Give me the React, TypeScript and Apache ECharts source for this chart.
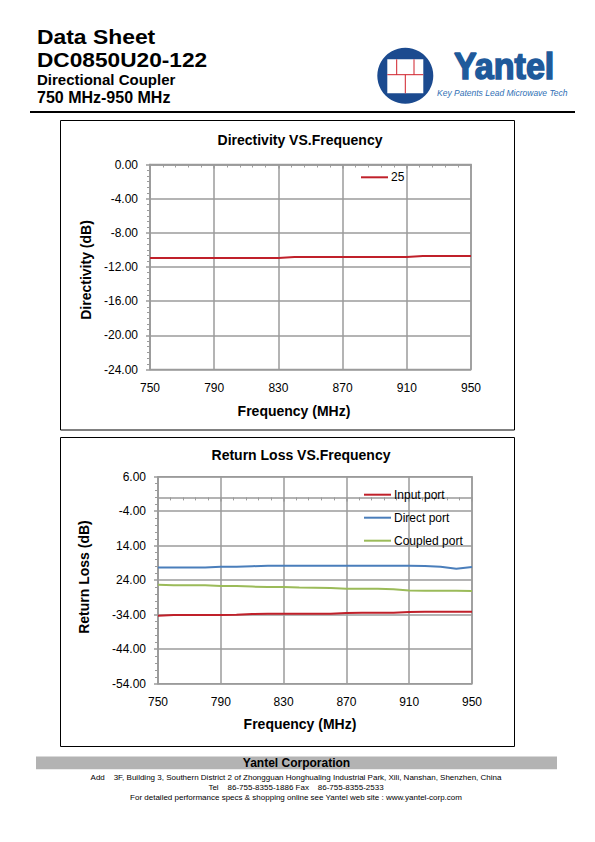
import React, { useEffect, useRef } from "react";
import * as echarts from "echarts";

// ---------- data ----------
const freqs = [750, 760, 770, 780, 790, 800, 810, 820, 830, 840, 850, 860, 870, 880, 890, 900, 910, 920, 930, 940, 950];
const directivity25 = [-10.95, -10.95, -10.95, -10.95, -10.95, -10.95, -10.95, -10.95, -10.95, -10.84, -10.83, -10.83, -10.83, -10.83, -10.83, -10.83, -10.83, -10.72, -10.7, -10.7, -10.7];
const inputPort = [-34.3, -34.1, -34.1, -34.1, -34.1, -34.05, -33.8, -33.75, -33.75, -33.75, -33.75, -33.72, -33.5, -33.45, -33.45, -33.4, -33.2, -33.15, -33.15, -33.15, -33.15];
const directPort = [-20.35, -20.35, -20.35, -20.35, -20.1, -20.1, -19.95, -19.8, -19.8, -19.8, -19.8, -19.8, -19.8, -19.8, -19.8, -19.8, -19.8, -19.85, -20.1, -20.65, -20.2];
const coupledPort = [-25.3, -25.45, -25.45, -25.45, -25.7, -25.7, -25.85, -26.0, -26.0, -26.15, -26.2, -26.25, -26.5, -26.5, -26.5, -26.6, -27.0, -27.05, -27.05, -27.05, -27.1];

const dirYTicks = [0, -4, -8, -12, -16, -20, -24];
const dirYLabels = ["0.00", "-4.00", "-8.00", "-12.00", "-16.00", "-20.00", "-24.00"];
const rlYTicks = [6, -4, -14, -24, -34, -44, -54];
const rlYLabels = ["6.00", "-4.00", "14.00", "24.00", "-34.00", "-44.00", "-54.00"];
const xTickLabels = ["750", "790", "830", "870", "910", "950"];

const footerAddress = "Add    3F, Building 3, Southern District 2 of Zhongguan Honghualing Industrial Park, Xili, Nanshan, Shenzhen, China";
const footerTel = "Tel    86-755-8355-1886 Fax    86-755-8355-2533";
const footerWeb = "For detailed performance specs & shopping online see Yantel web site : www.yantel-corp.com";

// ---------- styles ----------
const FONT = '"Liberation Sans", Arial, sans-serif';
const GRID_GRAY = "#9b9b9b";
const RED = "#c0202a";
const BLUE = "#4a7ebb";
const GREEN = "#9bbb59";

function labelFrom(ticks: number[], labels: string[]) {
  return (v: number) => {
    const i = ticks.findIndex((t) => Math.abs(t - v) < 1e-6);
    return i >= 0 ? labels[i] : "";
  };
}

function makeX(gridIndex: number) {
  return {
    type: "value",
    gridIndex,
    min: 750,
    max: 950,
    interval: 40,
    axisLine: { show: true, lineStyle: { color: GRID_GRAY, width: 1.5 } },
    axisTick: { show: true, length: 4, lineStyle: { color: GRID_GRAY, width: 1.5 } },
    minorTick: { show: true, splitNumber: 5, length: 3, lineStyle: { color: GRID_GRAY, width: 1 } },
    axisLabel: {
      color: "#000",
      fontSize: 12,
      fontFamily: FONT,
      margin: 12,
      formatter: (v: number) => {
        const s = String(Math.round(v));
        return xTickLabels.includes(s) ? s : "";
      },
    },
    splitLine: { show: true, lineStyle: { color: GRID_GRAY, width: 1.5 } },
  };
}

function makeY(gridIndex: number, min: number, max: number, interval: number, minorSplit: number, ticks: number[], labels: string[]) {
  return {
    type: "value",
    gridIndex,
    min,
    max,
    interval,
    axisLine: { show: true, lineStyle: { color: GRID_GRAY, width: 1.5 } },
    axisTick: { show: true, length: 4, lineStyle: { color: GRID_GRAY, width: 1.5 } },
    minorTick: { show: true, splitNumber: minorSplit, length: 3, lineStyle: { color: GRID_GRAY, width: 1 } },
    axisLabel: {
      color: "#000",
      fontSize: 12,
      fontFamily: FONT,
      margin: 12,
      formatter: labelFrom(ticks, labels),
    },
    splitLine: { show: true, lineStyle: { color: GRID_GRAY, width: 1.5 } },
  };
}

function pairs(vals: number[]) {
  return freqs.map((f, i) => [f, vals[i]]);
}

function txt(text: string, x: number, y: number, font: string, fill = "#000", align = "left", extra: any = {}, styleExtra: any = {}) {
  return {
    type: "text",
    x,
    y,
    ...extra,
    style: { text, font, fill, textAlign: align, textVerticalAlign: "middle", ...styleExtra },
  };
}

function legendCfg(names: string[], left: number, top: number) {
  return {
    data: names,
    left,
    top,
    padding: 0,
    orient: "vertical",
    icon: "rect",
    itemWidth: 27,
    itemHeight: 2,
    itemGap: 11,
    textStyle: { color: "#000", fontSize: 12, fontFamily: FONT, padding: [0, 0, 0, -2] },
  };
}

export default function App() {
  const ref = useRef<HTMLDivElement>(null);

  useEffect(() => {
    if (!ref.current) return;
    const chart = echarts.init(ref.current, undefined, { renderer: "svg" });

    const graphic: any[] = [
      // header text
      txt("Data Sheet", 37, 36.6, `bold 21px ${FONT}`, "#000", "left", { scaleX: 1.09 }),
      txt("DC0850U20-122", 37, 60.2, `bold 21px ${FONT}`, "#000", "left", { scaleX: 1.08 }),
      txt("Directional Coupler", 37, 79.5, `bold 15px ${FONT}`),
      txt("750 MHz-950 MHz", 37, 97, `bold 16px ${FONT}`),
      // logo
      { type: "circle", shape: { cx: 405.3, cy: 75.7, r: 28 }, style: { fill: "#1b4a8f" } },
      { type: "rect", shape: { x: 387.3, y: 59.3, width: 36, height: 34 }, style: { fill: "#fff" } },
      { type: "line", shape: { x1: 387.3, y1: 74.7, x2: 423.3, y2: 74.7 }, style: { stroke: "#d0202a", lineWidth: 1 } },
      { type: "line", shape: { x1: 396.7, y1: 59.3, x2: 396.7, y2: 74.7 }, style: { stroke: "#d0202a", lineWidth: 1 } },
      { type: "line", shape: { x1: 414, y1: 59.3, x2: 414, y2: 74.7 }, style: { stroke: "#d0202a", lineWidth: 1 } },
      { type: "line", shape: { x1: 405.3, y1: 74.7, x2: 405.3, y2: 93.3 }, style: { stroke: "#d0202a", lineWidth: 1 } },
      txt("Yantel", 454, 66.3, `bold 37px ${FONT}`, "#1f5a9b", "left", { scaleX: 0.92 }, { stroke: "#1f5a9b", lineWidth: 1.6 }),
      txt("Key Patents Lead Microwave Tech", 437, 92.7, `italic 8.5px ${FONT}`, "#2f6fb5"),
      // header rule
      { type: "line", shape: { x1: 30, y1: 112, x2: 575, y2: 112 }, style: { stroke: "#000", lineWidth: 2 } },
      // chart boxes
      { type: "rect", shape: { x: 60.5, y: 120.5, width: 454, height: 309.5 }, style: { fill: "none", stroke: "#000", lineWidth: 1 } },
      { type: "rect", shape: { x: 60.5, y: 437.5, width: 454, height: 309 }, style: { fill: "none", stroke: "#000", lineWidth: 1 } },
      // chart titles & axis names
      txt("Directivity VS.Frequency", 300, 140, `bold 14px ${FONT}`, "#000", "center"),
      txt("Frequency (MHz)", 294, 411, `bold 14px ${FONT}`, "#000", "center"),
      txt("Directivity (dB)", 86, 270, `bold 14px ${FONT}`, "#000", "center", { rotation: Math.PI / 2 }),
      txt("Return Loss VS.Frequency", 301, 455, `bold 14px ${FONT}`, "#000", "center"),
      txt("Frequency (MHz)", 300, 724, `bold 14px ${FONT}`, "#000", "center"),
      txt("Return Loss (dB)", 84, 577, `bold 14px ${FONT}`, "#000", "center", { rotation: Math.PI / 2 }),
      // footer
      { type: "rect", shape: { x: 36, y: 756.5, width: 521, height: 12.8 }, style: { fill: "#b3b3b3" } },
      txt("Yantel Corporation", 296.5, 763, `bold 12px ${FONT}`, "#000", "center"),
      txt(footerAddress, 296, 777, `8px ${FONT}`, "#000", "center"),
      txt(footerTel, 296, 787, `8px ${FONT}`, "#000", "center"),
      txt(footerWeb, 296, 797, `8px ${FONT}`, "#000", "center"),
    ];

    const option: any = {
      animation: false,
      backgroundColor: "#fff",
      textStyle: { fontFamily: FONT },
      grid: [
        { left: 150, top: 164.5, width: 321, height: 205, show: true, borderColor: GRID_GRAY, borderWidth: 1.5, backgroundColor: "transparent" },
        { left: 158, top: 476.7, width: 314, height: 207, show: true, borderColor: GRID_GRAY, borderWidth: 1.5, backgroundColor: "transparent" },
      ],
      xAxis: [makeX(0), makeX(1)],
      yAxis: [
        makeY(0, -24, 0, 4, 6, dirYTicks, dirYLabels),
        makeY(1, -54, 6, 10, 5, rlYTicks, rlYLabels),
      ],
      legend: [
        legendCfg(["25"], 361, 171.3),
        legendCfg(["Input port", "Direct port", "Coupled port"], 364, 488.7),
      ],
      series: [
        { name: "25", type: "line", xAxisIndex: 0, yAxisIndex: 0, data: pairs(directivity25), symbol: "none", lineStyle: { color: RED, width: 2 }, itemStyle: { color: RED } },
        { name: "Input port", type: "line", xAxisIndex: 1, yAxisIndex: 1, data: pairs(inputPort), symbol: "none", lineStyle: { color: RED, width: 2 }, itemStyle: { color: RED } },
        { name: "Direct port", type: "line", xAxisIndex: 1, yAxisIndex: 1, data: pairs(directPort), symbol: "none", lineStyle: { color: BLUE, width: 2 }, itemStyle: { color: BLUE } },
        { name: "Coupled port", type: "line", xAxisIndex: 1, yAxisIndex: 1, data: pairs(coupledPort), symbol: "none", lineStyle: { color: GREEN, width: 2 }, itemStyle: { color: GREEN } },
      ],
      graphic,
    };

    chart.setOption(option);
    return () => chart.dispose();
  }, []);

  return <div ref={ref} style={{ position: "absolute", left: 0, top: 0, width: 595, height: 842 }} />;
}
